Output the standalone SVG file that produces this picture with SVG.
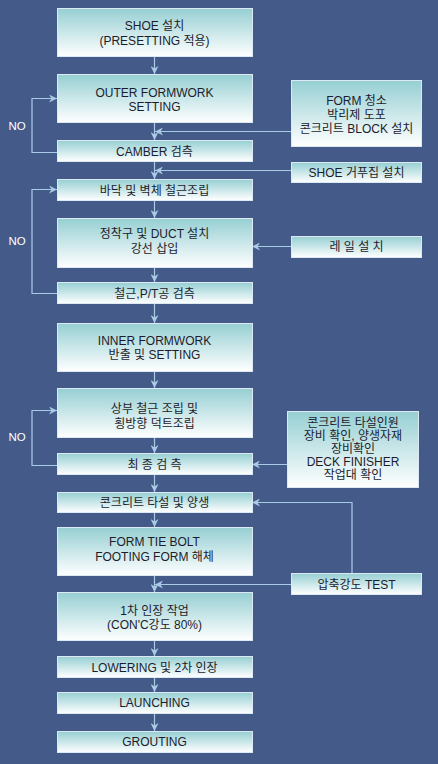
<svg xmlns="http://www.w3.org/2000/svg" width="438" height="764" viewBox="0 0 438 764">
<defs>
<linearGradient id="g" x1="0" y1="0" x2="0" y2="1">
<stop offset="0" stop-color="#96cfd3"/>
<stop offset="1" stop-color="#ffffff"/>
</linearGradient>
<marker id="ah" markerWidth="9" markerHeight="8" refX="8" refY="4" orient="auto" markerUnits="userSpaceOnUse">
<path d="M0,0 L8,4 L0,8 L2.5,4 z" fill="#a9cbe6"/>
</marker>
<style>
.b{fill:url(#g);stroke:#dce8f2;stroke-width:1}
.t{font-family:"Liberation Sans","Noto Sans CJK KR",sans-serif;font-size:12px;fill:#1c1c2c;text-anchor:middle}
.n{font-family:"Liberation Sans","Noto Sans CJK KR",sans-serif;font-size:11.5px;fill:#ffffff;text-anchor:middle}
.c{fill:none;stroke:#a9cbe6;stroke-width:1.2}
</style>
</defs>
<rect width="438" height="764" fill="#445a89"/>

<g id="connectors">
<path class="c" d="M154.5,56 V74" marker-end="url(#ah)"/>
<path class="c" d="M154.5,122 V140" marker-end="url(#ah)"/>
<path class="c" d="M154.5,161 V179" marker-end="url(#ah)"/>
<path class="c" d="M154.5,200 V218" marker-end="url(#ah)"/>
<path class="c" d="M154.5,267 V282" marker-end="url(#ah)"/>
<path class="c" d="M154.5,303 V323" marker-end="url(#ah)"/>
<path class="c" d="M154.5,371 V388" marker-end="url(#ah)"/>
<path class="c" d="M154.5,437 V453" marker-end="url(#ah)"/>
<path class="c" d="M154.5,474 V492" marker-end="url(#ah)"/>
<path class="c" d="M154.5,512 V527" marker-end="url(#ah)"/>
<path class="c" d="M154.5,575 V592" marker-end="url(#ah)"/>
<path class="c" d="M154.5,640 V656" marker-end="url(#ah)"/>
<path class="c" d="M154.5,677 V692" marker-end="url(#ah)"/>
<path class="c" d="M154.5,713 V731" marker-end="url(#ah)"/>
<path class="c" d="M291,131.5 H155" marker-end="url(#ah)"/>
<path class="c" d="M291,170.5 H155" marker-end="url(#ah)"/>
<path class="c" d="M291,246.5 H252" marker-end="url(#ah)"/>
<path class="c" d="M287,464.5 H252" marker-end="url(#ah)"/>
<path class="c" d="M352,573 V502.5 H252" marker-end="url(#ah)"/>
<path class="c" d="M291,584.5 H155" marker-end="url(#ah)"/>
<path class="c" d="M57,152.5 H32 V98.5 H57" marker-end="url(#ah)"/>
<path class="c" d="M57,293.5 H32 V189.5 H57" marker-end="url(#ah)"/>
<path class="c" d="M57,465.5 H32 V410.5 H57" marker-end="url(#ah)"/>
</g>

<g id="no-labels">
<text class="n" x="17" y="130">NO</text>
<text class="n" x="17" y="245">NO</text>
<text class="n" x="17" y="441">NO</text>
</g>

<g id="n1"><rect class="b" x="57.5" y="8.5" width="195" height="48"/><text class="t" x="154.5" y="30">SHOE 설치</text><text class="t" x="154.5" y="45">(PRESETTING 적용)</text></g>
<g id="n2"><rect class="b" x="57.5" y="74.5" width="195" height="48"/><text class="t" x="154.5" y="97">OUTER FORMWORK</text><text class="t" x="154.5" y="111">SETTING</text></g>
<g id="n3"><rect class="b" x="57.5" y="140.5" width="195" height="21"/><text class="t" x="154.5" y="155.5">CAMBER 검측</text></g>
<g id="n4"><rect class="b" x="57.5" y="179.5" width="195" height="21"/><text class="t" x="154.5" y="194.5">바닥 및 벽체 철근조립</text></g>
<g id="n5"><rect class="b" x="57.5" y="218.5" width="195" height="49"/><text class="t" x="154.5" y="238">정착구 및 DUCT 설치</text><text class="t" x="154.5" y="253">강선 삽입</text></g>
<g id="n6"><rect class="b" x="57.5" y="282.5" width="195" height="21"/><text class="t" x="154.5" y="297.5">철근,P/T공 검측</text></g>
<g id="n7"><rect class="b" x="57.5" y="323.5" width="195" height="48"/><text class="t" x="154.5" y="345">INNER FORMWORK</text><text class="t" x="154.5" y="359">반출 및 SETTING</text></g>
<g id="n8"><rect class="b" x="57.5" y="388.5" width="195" height="49"/><text class="t" x="154.5" y="413">상부 철근 조립 및</text><text class="t" x="154.5" y="428">횡방향 덕트조립</text></g>
<g id="n9"><rect class="b" x="57.5" y="453.5" width="195" height="21"/><text class="t" x="154.5" y="468.5" xml:space="preserve">최 종 검 측</text></g>
<g id="n10"><rect class="b" x="57.5" y="492.5" width="195" height="20"/><text class="t" x="154.5" y="507">콘크리트 타설 및 양생</text></g>
<g id="n11"><rect class="b" x="57.5" y="527.5" width="195" height="48"/><text class="t" x="154.5" y="546">FORM TIE BOLT</text><text class="t" x="154.5" y="561">FOOTING FORM 해체</text></g>
<g id="n12"><rect class="b" x="57.5" y="592.5" width="195" height="48"/><text class="t" x="154.5" y="615">1차 인장 작업</text><text class="t" x="154.5" y="629">(CON'C강도 80%)</text></g>
<g id="n13"><rect class="b" x="57.5" y="656.5" width="195" height="21"/><text class="t" x="154.5" y="672">LOWERING 및 2차 인장</text></g>
<g id="n14"><rect class="b" x="57.5" y="692.5" width="195" height="21"/><text class="t" x="154.5" y="707">LAUNCHING</text></g>
<g id="n15"><rect class="b" x="57.5" y="731.5" width="195" height="21"/><text class="t" x="154.5" y="746">GROUTING</text></g>

<g id="s1"><rect class="b" x="291.5" y="80.5" width="130" height="66"/><text class="t" x="356.5" y="105">FORM 청소</text><text class="t" x="356.5" y="119">박리제 도포</text><text class="t" x="356.5" y="133">콘크리트 BLOCK 설치</text></g>
<g id="s2"><rect class="b" x="291.5" y="162.5" width="130" height="20"/><text class="t" x="356.5" y="176.5">SHOE 거푸집 설치</text></g>
<g id="s3"><rect class="b" x="291.5" y="236.5" width="130" height="21"/><text class="t" x="356.5" y="251" xml:space="preserve">레 일 설 치</text></g>
<g id="s4"><rect class="b" x="287.5" y="411.5" width="131" height="76"/><text class="t" x="353" y="427">콘크리트 타설인원</text><text class="t" x="353" y="440">장비 확인, 양생자재</text><text class="t" x="353" y="453">장비확인</text><text class="t" x="353" y="466">DECK FINISHER</text><text class="t" x="353" y="479">작업대 확인</text></g>
<g id="s5"><rect class="b" x="291.5" y="573.5" width="130" height="21"/><text class="t" x="356.5" y="589">압축강도 TEST</text></g>
</svg>
